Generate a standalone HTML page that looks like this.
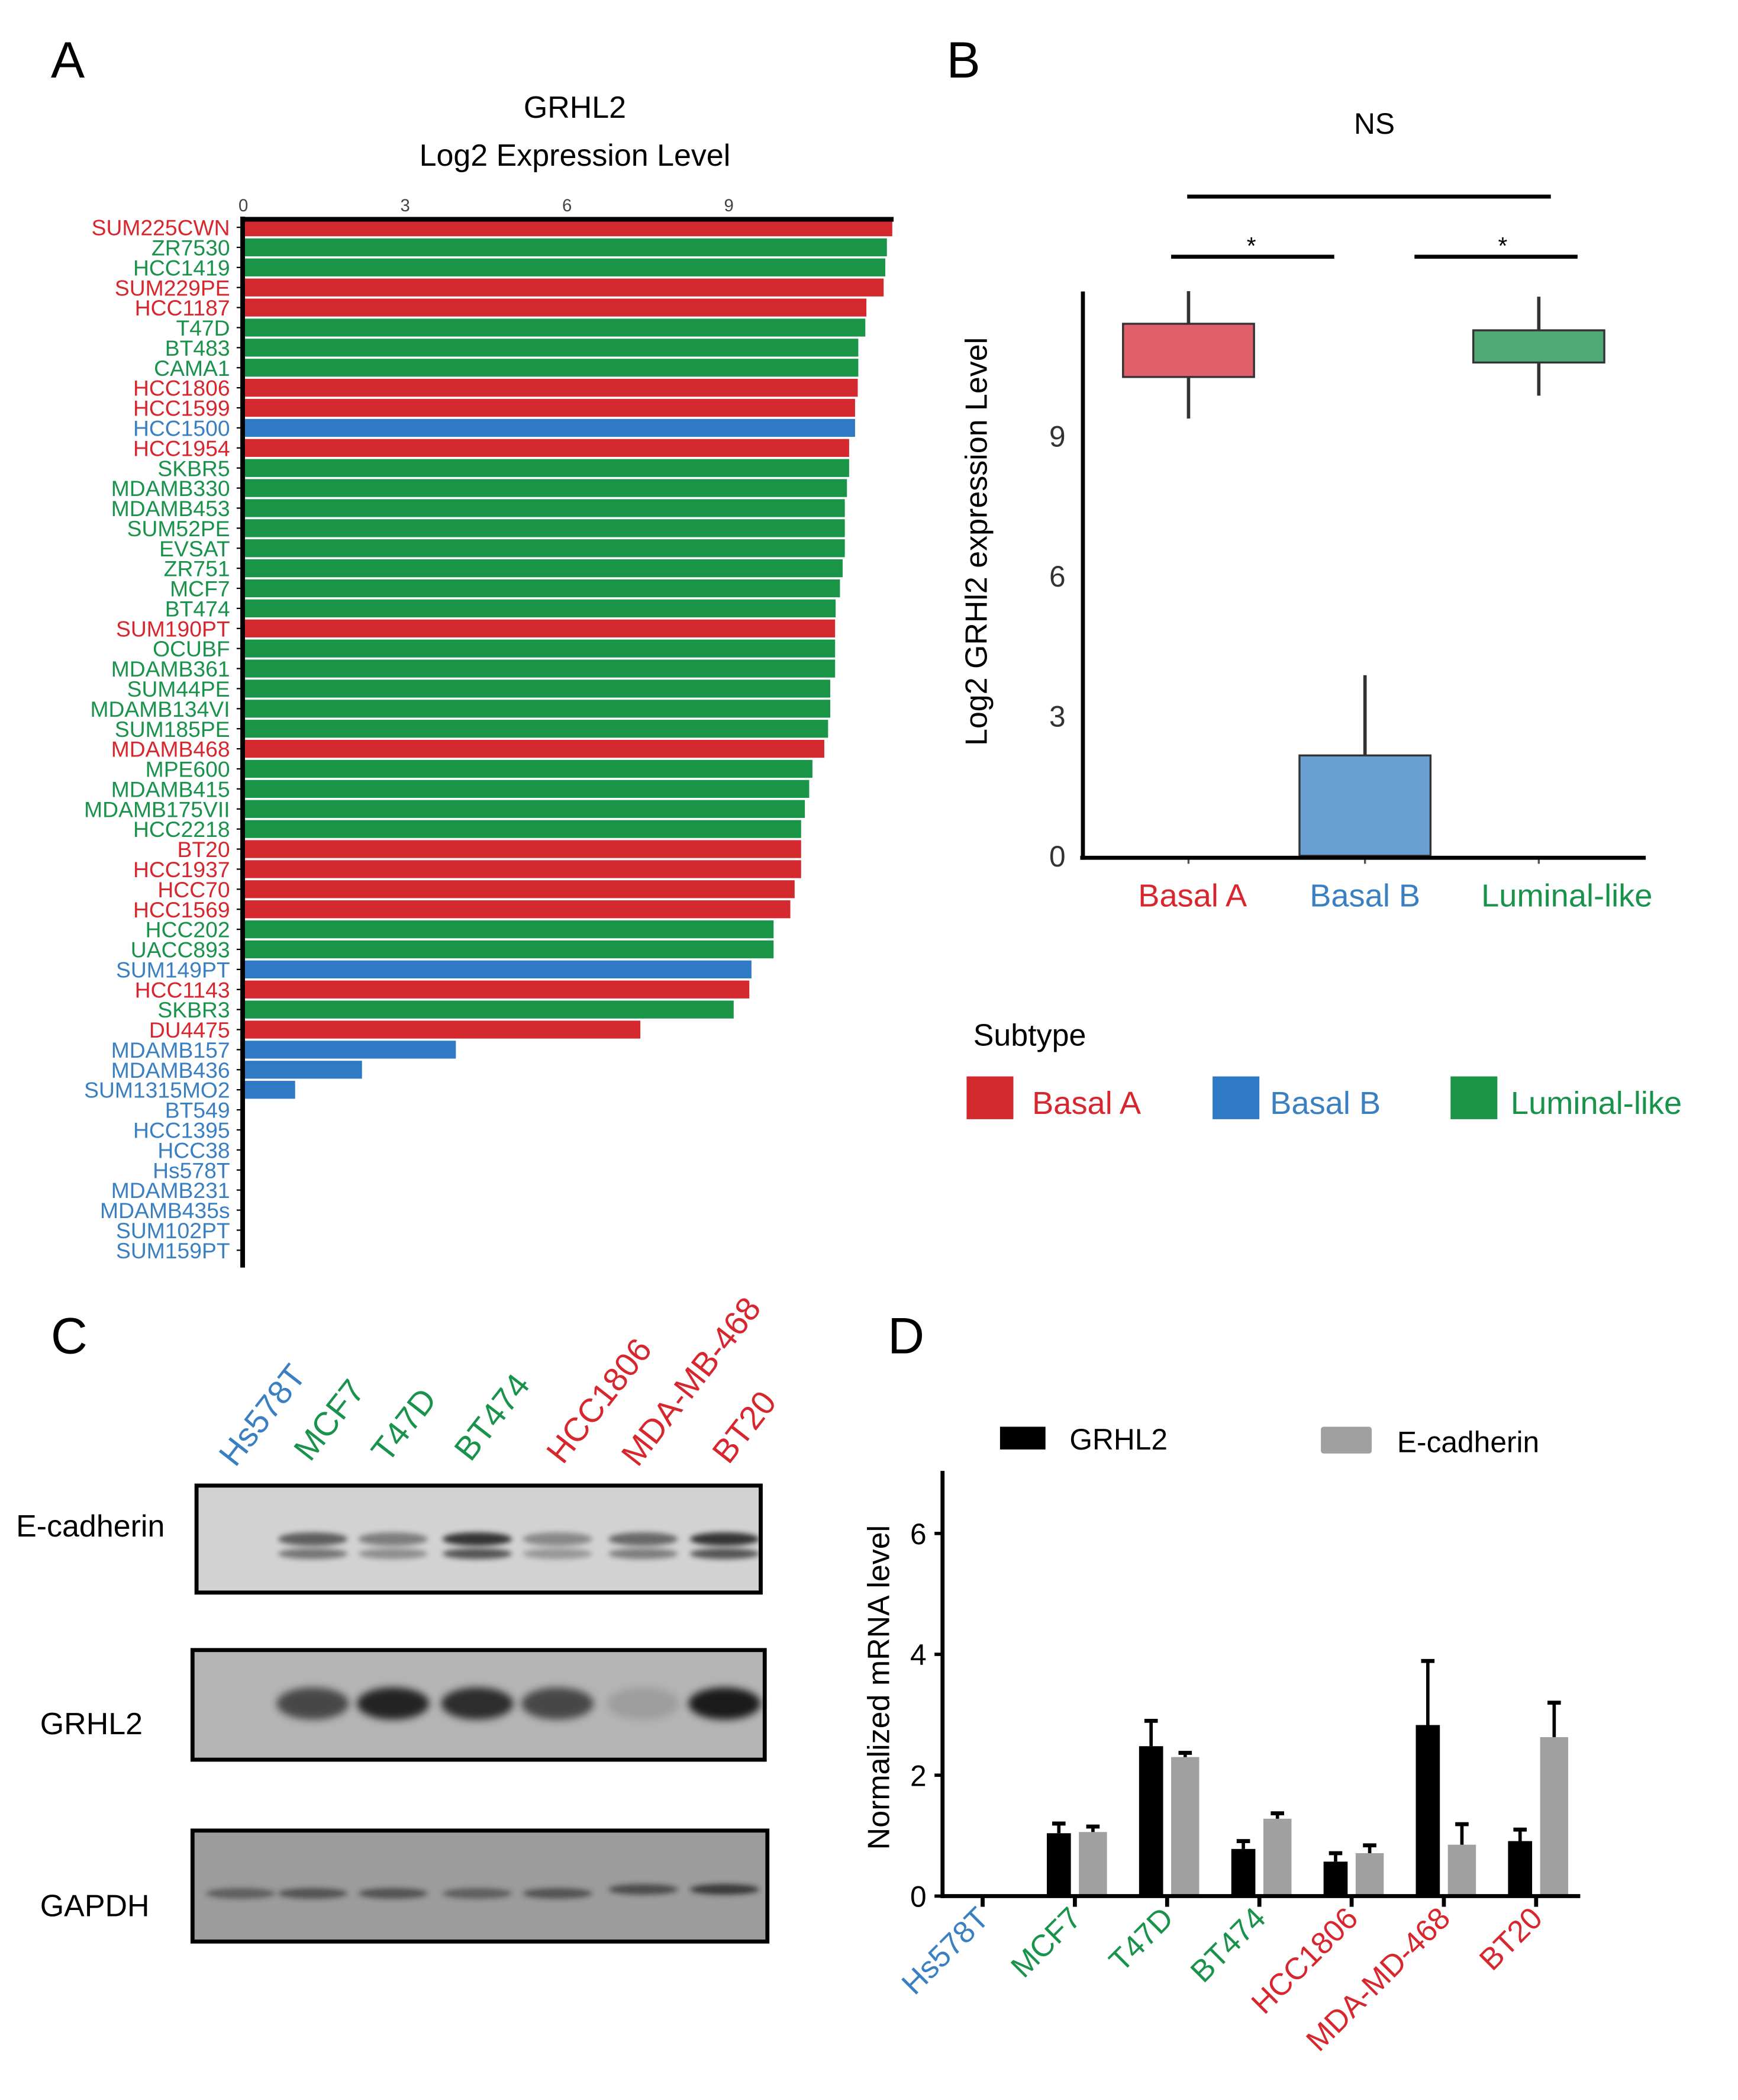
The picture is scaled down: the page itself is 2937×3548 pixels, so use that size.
<!DOCTYPE html>
<html><head><meta charset="utf-8">
<style>
html,body{margin:0;padding:0;background:#fff;}
svg{display:block;font-family:"Liberation Sans",Arial,sans-serif;}
</style></head>
<body>
<svg id="fig" width="2937" height="3548" viewBox="0 0 1300 1570.5" preserveAspectRatio="none" xmlns="http://www.w3.org/2000/svg">
<defs>
<filter id="blur3" x="-50%" y="-200%" width="200%" height="500%"><feGaussianBlur stdDeviation="3"/></filter>
<filter id="blur2" x="-50%" y="-200%" width="200%" height="500%"><feGaussianBlur stdDeviation="2"/></filter>
</defs>
<rect width="1300" height="1570.5" fill="#fff"/>
<text x="38" y="58" font-size="38">A</text>
<text x="708" y="58" font-size="38">B</text>
<text x="38" y="1012" font-size="38">C</text>
<text x="664" y="1012" font-size="38">D</text>

<g id="panelA">
<text x="430" y="88" font-size="23" text-anchor="middle">GRHL2</text>
<text x="430" y="124" font-size="23" text-anchor="middle">Log2 Expression Level</text>
</g>

<g id="panelB">
<text x="1028" y="100" font-size="22" text-anchor="middle">NS</text>
<line x1="888" y1="147" x2="1160" y2="147" stroke="#000" stroke-width="3"/>
<text x="936" y="190" font-size="18" text-anchor="middle">*</text>
<line x1="876" y1="192" x2="998" y2="192" stroke="#000" stroke-width="3"/>
<text x="1124" y="190" font-size="18" text-anchor="middle">*</text>
<line x1="1058" y1="192" x2="1180" y2="192" stroke="#000" stroke-width="3"/>
<text transform="translate(738,405) rotate(-90)" font-size="23" text-anchor="middle">Log2  GRHl2 expression Level</text>
<text x="728" y="782" font-size="23">Subtype</text>
<rect x="723" y="805" width="35" height="32" fill="#d42a2f"/>
<text x="772" y="833" font-size="24" fill="#d7262d">Basal A</text>
<rect x="907" y="805" width="35" height="32" fill="#2e7ac4"/>
<text x="950" y="833" font-size="24" fill="#3a7fc1">Basal B</text>
<rect x="1085" y="805" width="35" height="32" fill="#1a9447"/>
<text x="1130" y="833" font-size="24" fill="#19924b">Luminal-like</text>
</g>

<g id="panelC">
<rect x="147" y="1111" width="422" height="80" fill="#d2d2d2" stroke="#000" stroke-width="3"/>
<rect x="144" y="1234" width="428" height="82" fill="#b4b4b4" stroke="#000" stroke-width="3"/>
<rect x="144" y="1369" width="430" height="83" fill="#9c9c9c" stroke="#000" stroke-width="3"/>
<text x="12" y="1149" font-size="23">E-cadherin</text>
<text x="30" y="1297" font-size="23">GRHL2</text>
<text x="30" y="1433" font-size="23">GAPDH</text>
</g>

<g id="panelD">
<rect x="748" y="1067" width="34" height="17" fill="#000"/>
<text x="800" y="1084" font-size="22">GRHL2</text>
<rect x="988" y="1067" width="38" height="20" fill="#a0a0a0" rx="2"/>
<text x="1045" y="1086" font-size="22">E-cadherin</text>
<text transform="translate(665,1262) rotate(-90)" font-size="23" text-anchor="middle">Normalized mRNA level</text>
</g>
</svg>

<script>
var NS='http://www.w3.org/2000/svg';
function mk(tag, attrs, parent, txt){var e=document.createElementNS(NS,tag);for(var k in attrs)e.setAttribute(k,attrs[k]);if(txt!==undefined)e.textContent=txt;parent.appendChild(e);return e;}
var COLORS={A:'#d42a2f',B:'#2e7ac4',L:'#1a9447'};
var TCOLORS={A:'#d7262d',B:'#3a7fc1',L:'#19924b'};

// ---------- Panel A data ----------
var cellLines=['SUM225CWN','ZR7530','HCC1419','SUM229PE','HCC1187','T47D','BT483','CAMA1','HCC1806','HCC1599','HCC1500','HCC1954','SKBR5','MDAMB330','MDAMB453','SUM52PE','EVSAT','ZR751','MCF7','BT474','SUM190PT','OCUBF','MDAMB361','SUM44PE','MDAMB134VI','SUM185PE','MDAMB468','MPE600','MDAMB415','MDAMB175VII','HCC2218','BT20','HCC1937','HCC70','HCC1569','HCC202','UACC893','SUM149PT','HCC1143','SKBR3','DU4475','MDAMB157','MDAMB436','SUM1315MO2','BT549','HCC1395','HCC38','Hs578T','MDAMB231','MDAMB435s','SUM102PT','SUM159PT'];
var subtypes=['A','L','L','A','A','L','L','L','A','A','B','A','L','L','L','L','L','L','L','L','A','L','L','L','L','L','A','L','L','L','L','A','A','A','A','L','L','B','A','L','A','B','B','B','B','B','B','B','B','B','B','B'];
var expr=[12.03,11.93,11.9,11.87,11.55,11.53,11.4,11.4,11.39,11.34,11.34,11.23,11.23,11.19,11.15,11.15,11.15,11.11,11.06,10.98,10.97,10.97,10.97,10.88,10.88,10.84,10.77,10.55,10.49,10.41,10.34,10.34,10.34,10.22,10.14,9.83,9.83,9.42,9.38,9.09,7.36,3.94,2.2,0.96,0,0,0,0,0,0,0,0];
var aTicks=[0,3,6,9];

// ---------- Panel B data ----------
var bGroups=['Basal A','Basal B','Luminal-like'];
var bKeys=['A','B','L'];
var bQ1=[10.26,0,10.57];
var bQ3=[11.4,2.15,11.26];
var bLow=[9.37,0,9.86];
var bHigh=[12.1,3.87,11.98];
var bTicks=[0,3,6,9];

// ---------- Panel C data ----------
var blotLanes=['Hs578T','MCF7','T47D','BT474','HCC1806','MDA-MB-468','BT20'];
var blotTypes=['B','L','L','L','A','A','A'];
var ecadInt=[0,0.55,0.4,0.75,0.35,0.5,0.75];
var grhlInt=[0,0.6,0.8,0.75,0.6,0.12,0.85];
var gapdhInt=[0.5,0.6,0.6,0.5,0.6,0.65,0.8];

// ---------- Panel D data ----------
var dCats=['Hs578T','MCF7','T47D','BT474','HCC1806','MDA-MD-468','BT20'];
var dTypes=['B','L','L','L','A','A','A'];
var grhl2Vals=[0,1.04,2.48,0.78,0.57,2.83,0.91];
var grhl2Err=[0,0.16,0.42,0.13,0.14,1.06,0.19];
var ecadVals=[0,1.06,2.3,1.28,0.71,0.85,2.63];
var ecadErr=[0,0.09,0.07,0.09,0.13,0.34,0.57];
var dTicks=[0,2,4,6];

(function(){
  var g=document.getElementById('panelA');
  var x0=182, pxu=40.35, y0=170, pitch=15.0, bh=13.4;
  function xA(v){return x0+v*pxu;}
  function yA(i){return y0+i*pitch;}
  for(var i=0;i<cellLines.length;i++){
    if(expr[i]>0){
      var r=mk('rect',{x:xA(0),y:yA(i)-bh/2,width:xA(expr[i])-xA(0),height:bh,fill:COLORS[subtypes[i]]},g);
      
      
    }
    var t=mk('text',{x:172,y:yA(i)+6,'font-size':16.5,'text-anchor':'end',fill:TCOLORS[subtypes[i]]},g,cellLines[i]);
    
    
    var tk=mk('line',{x1:177,x2:181,y1:yA(i),y2:yA(i),stroke:'#000','stroke-width':1},g);
    
    
  }
  var top=mk('line',{x1:180,x2:xA(expr[0])+1,y1:164,y2:164,stroke:'#000','stroke-width':3.5},g);
  
  
  var ax=mk('line',{x1:181.5,x2:181.5,y1:162,y2:948,stroke:'#000','stroke-width':3.5},g);
  
  
  aTicks.forEach(function(v){
    var t=mk('text',{x:xA(v),y:158,'font-size':13,'text-anchor':'middle',fill:'#444'},g,String(v));
    
    
  });
})();

(function(){
  var g=document.getElementById('panelB');
  var y0=640, pxu=34.9, cx=[889,1021,1151], hw=49;
  var lx=[892,1021,1172];
  function yB(v){return y0-v*pxu;}
  var fills=['#e0606a','#6a9fd1','#4fab76'];
  var tfills=['#d7262d','#3a7fc1','#19924b'];
  for(var i=0;i<bGroups.length;i++){
    var w=mk('line',{x1:cx[i],x2:cx[i],y1:yB(bHigh[i]),y2:yB(bLow[i]),stroke:'#333','stroke-width':2.5},g);
    
    
    var b=mk('rect',{x:cx[i]-hw,y:yB(bQ3[i]),width:2*hw,height:yB(bQ1[i])-yB(bQ3[i]),fill:fills[i],stroke:'#333','stroke-width':1.5},g);
    
    
    var t=mk('text',{x:lx[i],y:678,'font-size':24,'text-anchor':'middle',fill:tfills[i]},g,bGroups[i]);
    
    
    var tk=mk('line',{x1:cx[i],x2:cx[i],y1:641,y2:646,stroke:'#555','stroke-width':1.5},g);
    
    
  }
  bTicks.forEach(function(v){
    var t=mk('text',{x:797,y:yB(v)+8,'font-size':22,'text-anchor':'end',fill:'#333'},g,String(v));
    
    
  });
  var ya=mk('line',{x1:810,x2:810,y1:218,y2:643,stroke:'#000','stroke-width':3},g);
  
  
  var xa=mk('line',{x1:808,x2:1231,y1:641.5,y2:641.5,stroke:'#000','stroke-width':3},g);
  
  
})();

(function(){
  var g=document.getElementById('panelC');
  var lx=[180,234,294,357,417,481,542];
  var lblPos=[[176,1098],[232,1094],[290,1095],[352,1094],[421,1096],[477,1098],[545,1096]];
  for(var i=0;i<blotLanes.length;i++){
    var t=mk('text',{transform:'translate('+lblPos[i][0]+','+lblPos[i][1]+') rotate(-52)','font-size':25,fill:TCOLORS[blotTypes[i]]},g,blotLanes[i]);
    
    
    if(ecadInt[i]>0){
      var e1=mk('ellipse',{cx:lx[i],cy:1151,rx:26,ry:5,fill:'#000',opacity:ecadInt[i],filter:'url(#blur2)'},g);
      
      
      var e2=mk('ellipse',{cx:lx[i],cy:1162,rx:26,ry:4,fill:'#000',opacity:ecadInt[i]*0.8,filter:'url(#blur2)'},g);
      
      
    }
    if(grhlInt[i]>0){
      var gb=mk('ellipse',{cx:lx[i],cy:1274,rx:27,ry:12,fill:'#000',opacity:grhlInt[i],filter:'url(#blur3)'},g);
      
      
    }
    var gp=mk('ellipse',{cx:lx[i],cy:1416-(i>=5?3:0),rx:26,ry:4,fill:'#222',opacity:gapdhInt[i],filter:'url(#blur2)'},g);
    
    
  }
})();

(function(){
  var g=document.getElementById('panelD');
  var y0=1418, pxu=45.2, x0=735, step=69;
  function xD(i){return x0+i*step;}
  function yD(v){return y0-v*pxu;}
  function drawBar(x,w,v,err,fill,name){
    if(v<=0)return;
    var r=mk('rect',{x:x,y:yD(v),width:w,height:yD(0)-yD(v),fill:fill},g);
    
    
    var c=x+w/2;
    var l=mk('line',{x1:c,x2:c,y1:yD(v),y2:yD(v+err),stroke:'#000','stroke-width':2.5},g);
    
    
    var cap=mk('line',{x1:c-5,x2:c+5,y1:yD(v+err),y2:yD(v+err),stroke:'#000','stroke-width':3},g);
    
    
  }
  for(var i=0;i<dCats.length;i++){
    var tx=xD(i);
    drawBar(tx-21,18,grhl2Vals[i],grhl2Err[i],'#000','bar-grhl2-'+dCats[i].toLowerCase());
    drawBar(tx+3,21,ecadVals[i],ecadErr[i],'#a0a0a0','bar-ecadherin-'+dCats[i].toLowerCase());
    var tk=mk('line',{x1:tx,x2:tx,y1:y0,y2:y0+8,stroke:'#000','stroke-width':3},g);
    
    
    var t=mk('text',{transform:'translate('+(tx+6)+','+(y0+18)+') rotate(-45)','font-size':23,'text-anchor':'end',fill:TCOLORS[dTypes[i]]},g,dCats[i]);
    
    
  }
  dTicks.forEach(function(v){
    var t=mk('text',{x:693,y:yD(v)+8,'font-size':22,'text-anchor':'end'},g,String(v));
    
    
    var tk=mk('line',{x1:699,x2:705,y1:yD(v),y2:yD(v),stroke:'#000','stroke-width':2.5},g);
    
    
  });
  var ya=mk('line',{x1:705,x2:705,y1:1100,y2:1419.5,stroke:'#000','stroke-width':3},g);
  
  
  var xa=mk('line',{x1:703.5,x2:1182,y1:1418,y2:1418,stroke:'#000','stroke-width':3},g);
  
  
})();
</script>
</body></html>
